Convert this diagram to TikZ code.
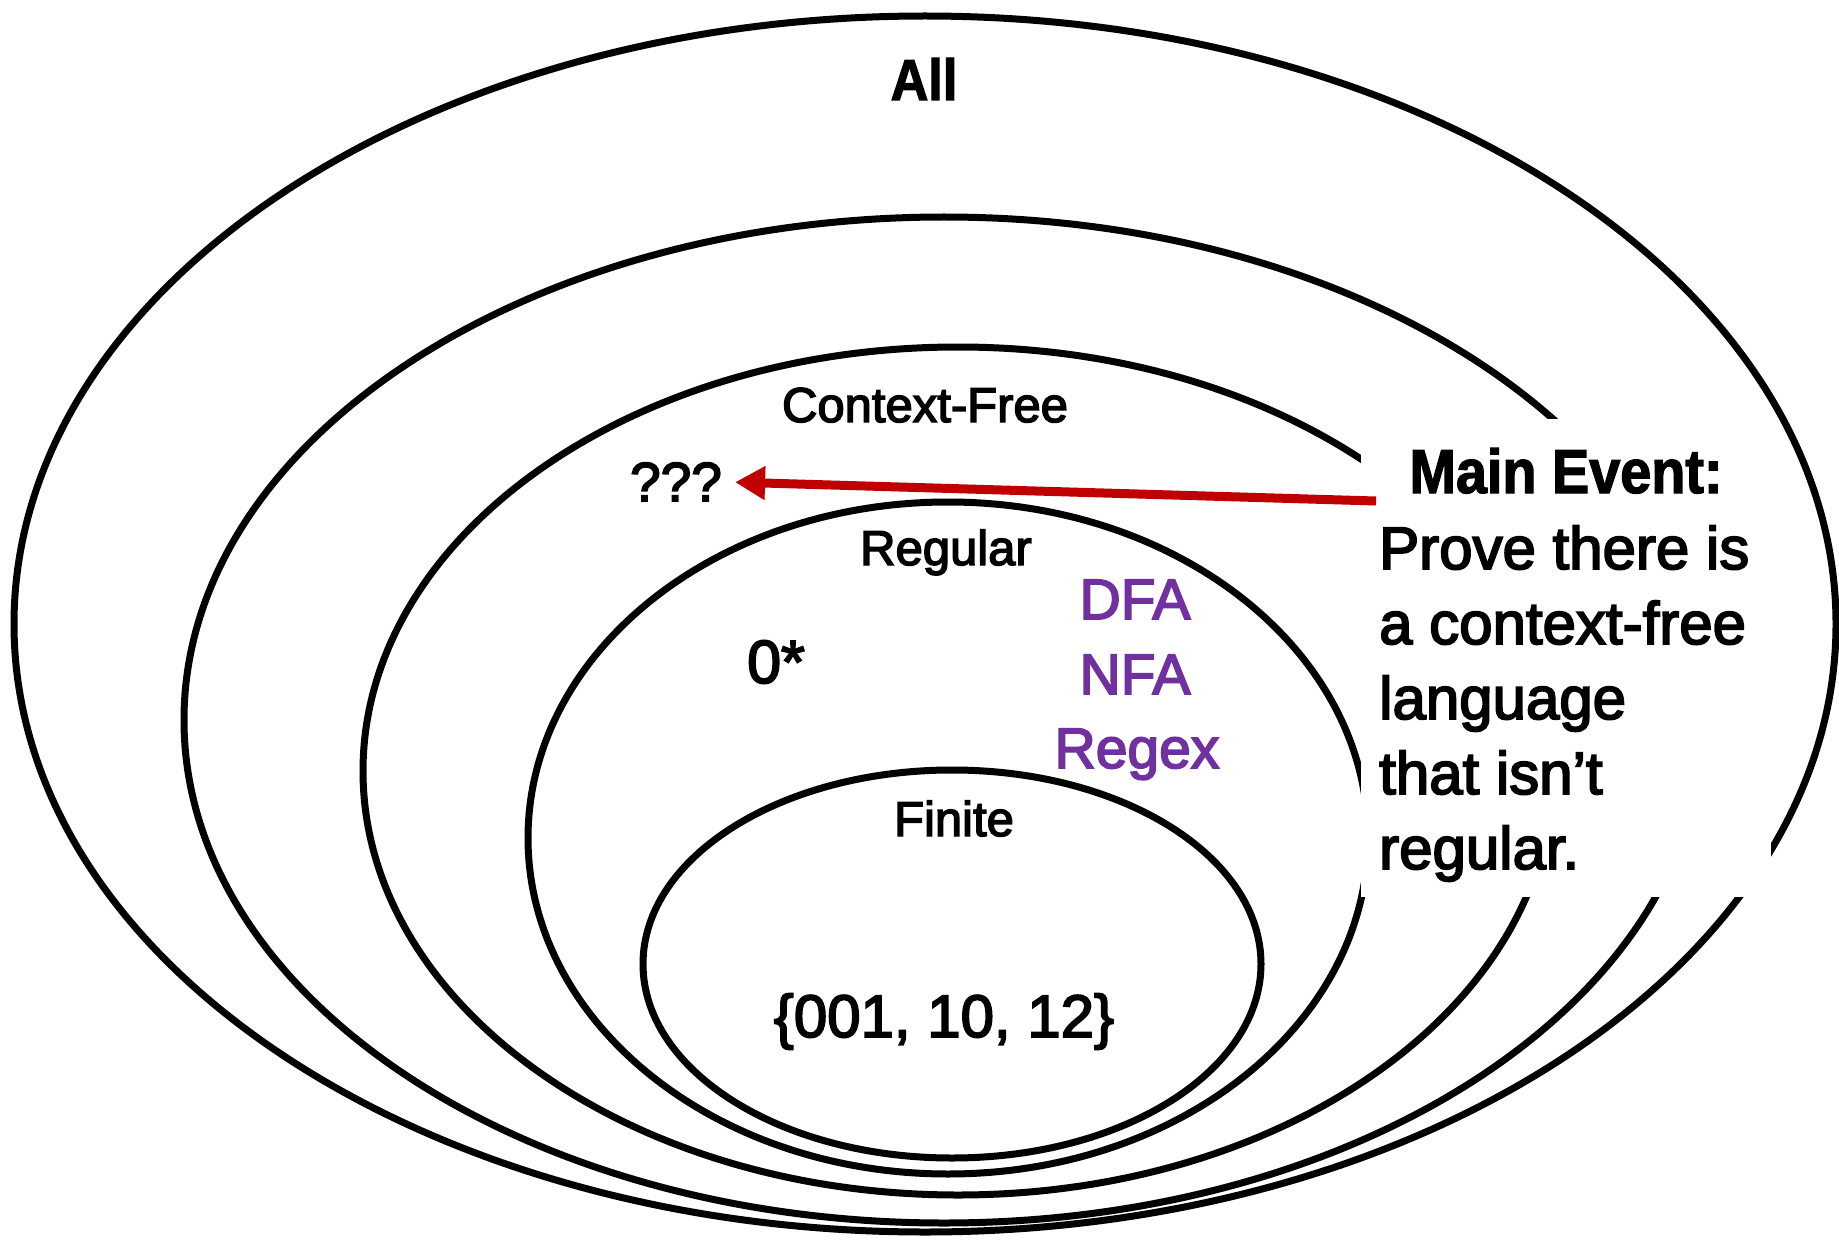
\documentclass[tikz,border=0pt]{standalone}
\usepackage{fontspec}
\setmainfont{Liberation Sans}
\newfontfamily\heavyfam[FakeStretch=0.9,FakeBold=2]{Liberation Sans}
\newfontfamily\medfam[FakeBold=3]{Liberation Sans}
\usetikzlibrary{arrows.meta,shapes.geometric}
\definecolor{arrowred}{HTML}{C00000}
\definecolor{fapurple}{HTML}{7030A0}
\begin{document}
\begin{tikzpicture}[x=1pt,y=-1pt,
  setbox/.style={ellipse, draw=black, line width=7pt, inner sep=0pt},
  lbl/.style={inner sep=0pt, anchor=base, font=\medfam\fontsize{49}{58}\selectfont},
  biglbl/.style={inner sep=0pt, anchor=base, font=\medfam\fontsize{58}{70}\selectfont},
  model/.style={inner sep=0pt, anchor=base, text=fapurple, font=\medfam\fontsize{57}{68}\selectfont},
  boldlbl/.style={inner sep=0pt, anchor=base, font=\heavyfam\bfseries\fontsize{58}{70}\selectfont},
  redarrow/.style={draw=arrowred, line width=9pt, -{Triangle[length=30pt,width=32pt]}}]
\useasboundingbox (0,0) rectangle (1839,1241);
% nested language classes
\node[setbox, minimum width=1822pt, minimum height=1216pt] (all) at (925,624) {};
\node[setbox, minimum width=1520pt, minimum height=1006pt] (second) at (944,720) {};
\node[setbox, minimum width=1190pt, minimum height=848pt] (cf) at (958,771) {};
\node[setbox, minimum width=840pt, minimum height=672pt] (reg) at (948,838) {};
\node[setbox, minimum width=618pt, minimum height=388pt] (fin) at (952,964) {};
% white callout area
\node[fill=white, inner sep=0pt, minimum width=410pt, minimum height=478pt, anchor=north west] (box) at (1361,419) {};
% labels
\node[boldlbl] (lall) at (924,100) {All};
\node[lbl] (lcf) at (925,422) {Context-Free};
\node[biglbl, font=\medfam\fontsize{55}{66}\selectfont] (qqq) at (676,501) {???};
\node[lbl] (lreg) at (946,565) {Regular};
\node[model] (dfa) at (1135,619) {DFA};
\node[model] (nfa) at (1135,694) {NFA};
\node[model] (regex) at (1137,768) {Regex};
\node[biglbl, font=\medfam\fontsize{61}{72}\selectfont] (zs) at (776,683) {0*};
\node[lbl] (lfin) at (954,836) {Finite};
\node[biglbl, font=\medfam\fontsize{60}{72}\selectfont] (fset) at (944,1037) {\{001, 10, 12\}};
% callout text
\node[inner sep=0pt, anchor=base, font=\heavyfam\bfseries\fontsize{62}{75}\selectfont] (mainev) at (1566,493) {Main Event:};
\node[inner sep=0pt, anchor=base west, align=left, font=\medfam\fontsize{60}{75}\selectfont] (body) at (1379,869) {Prove there is\\a context-free\\language\\that isn’t\\regular.};
% arrow
\coordinate (arrowstart) at (1376,501);
\draw[redarrow, shorten >=13pt] (arrowstart) -- (qqq.east);
\end{tikzpicture}
\end{document}
